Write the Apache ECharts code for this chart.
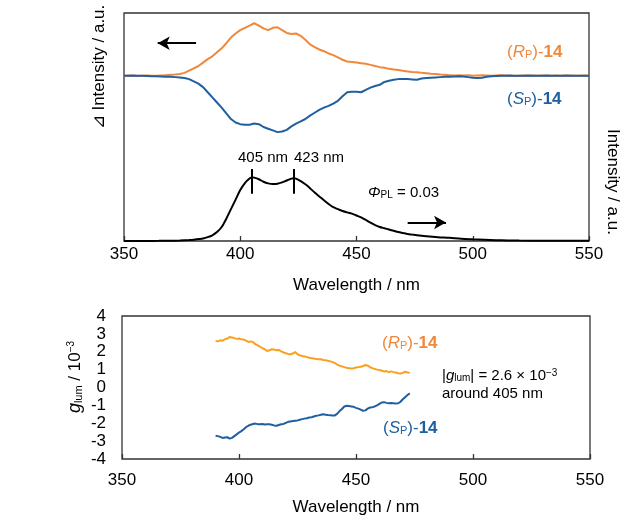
<!DOCTYPE html>
<html>
<head>
<meta charset="utf-8">
<script src="https://cdn.jsdelivr.net/npm/echarts@6/dist/echarts.min.js"></script>
<style>
  html, body { margin: 0; padding: 0; background: #fff; }
  #chart { width: 621px; height: 517px; }
</style>
</head>
<body>
<div id="chart"></div>
<script>
// CPL difference spectra (a.u.), sampled every 2 nm
const cplWl = [350,352,354,356,358,360,362,364,366,368,370,372,374,376,378,380,382,384,386,388,
  390,392,394,396,398,400,402,404,406,408,410,412,414,416,418,420,422,424,426,428,
  430,432,434,436,438,440,442,444,446,448,450,452,454,456,458,460,462,464,466,468,
  470,472,474,476,478,480,482,484,486,488,490,492,494,496,498,500,502,504,506,508,
  510,512,514,516,518,520,522,524,526,528,530,532,534,536,538,540,542,544,546,548,550];
const cplR = [0,0.005,0,-0.005,0,0.005,0,0,0.005,0.01,
  0.015,0.02,0.03,0.05,0.09,0.13,0.17,0.23,0.29,0.34,
  0.41,0.48,0.57,0.67,0.74,0.80,0.84,0.88,0.92,0.88,
  0.83,0.80,0.84,0.85,0.80,0.75,0.73,0.74,0.70,0.63,
  0.55,0.50,0.46,0.43,0.39,0.36,0.32,0.28,0.25,0.24,
  0.23,0.22,0.21,0.19,0.17,0.15,0.14,0.12,0.11,0.10,
  0.085,0.075,0.065,0.06,0.05,0.045,0.035,0.03,0.02,0.015,
  0.01,0.005,0.01,0.005,0.01,0,0.005,0.01,0.005,0,
  0.005,0.01,0.005,0,-0.005,0,0.005,0,0.005,0,
  0.005,0,0,0.005,0,0,0.005,0,0,0.005,0];
const cplS = [0,0,0.005,0,0,-0.005,-0.01,-0.01,-0.015,-0.02,
  -0.02,-0.025,-0.03,-0.04,-0.06,-0.10,-0.14,-0.20,-0.29,-0.38,
  -0.47,-0.56,-0.66,-0.76,-0.82,-0.85,-0.86,-0.86,-0.84,-0.85,
  -0.90,-0.93,-0.96,-0.99,-0.98,-0.95,-0.89,-0.84,-0.80,-0.76,
  -0.70,-0.65,-0.60,-0.56,-0.53,-0.49,-0.44,-0.36,-0.29,-0.28,
  -0.28,-0.29,-0.25,-0.21,-0.18,-0.16,-0.11,-0.09,-0.07,-0.06,
  -0.06,-0.06,-0.065,-0.07,-0.05,-0.04,-0.035,-0.03,-0.025,-0.02,
  -0.02,-0.015,-0.01,-0.015,-0.025,-0.035,-0.04,-0.035,-0.02,-0.01,
  -0.005,0,0,0.005,0,0,0,0.005,0,0,
  0,0.005,0,0,0,0.005,0,0,0,0,0];

// PL spectrum (normalised to the 405 nm maximum)
const plWl = [350,355,360,365,370,374,378,380,382,384,386,388,390,392,394,396,398,400,402,404,
  405,406,408,410,412,414,416,418,420,422,423,424,426,428,430,432,434,436,438,440,
  442,444,446,448,450,452,454,456,458,460,462,464,466,468,470,472,474,476,480,485,
  490,495,500,505,510,515,520,530,540,550];
const plI = [0,0,0.001,0.002,0.004,0.008,0.015,0.02,0.03,0.04,0.06,0.09,0.14,0.22,0.35,0.50,0.65,0.80,0.91,0.98,
  1.0,0.995,0.97,0.93,0.905,0.895,0.90,0.92,0.95,0.98,0.985,0.98,0.94,0.89,0.83,0.76,0.70,0.64,0.58,0.53,
  0.50,0.47,0.45,0.43,0.40,0.37,0.33,0.29,0.25,0.22,0.20,0.18,0.16,0.14,0.125,0.11,0.10,0.09,0.075,0.06,
  0.05,0.035,0.027,0.02,0.013,0.009,0.006,0.004,0.003,0.002];
const plPeaks = [405, 423];

// Dissymmetry factor g_lum (x 10^-3)
const gWl = [390,391,392,393,394,395,396,397,398,399,400,401,402,403,404,405,406,407,408,409,
  410,411,412,413,414,415,416,417,418,419,420,421,422,423,424,425,426,427,428,429,
  430,431,432,433,434,435,436,437,438,439,440,441,442,443,444,445,446,447,448,449,
  450,451,452,453,454,455,456,457,458,459,460,461,462,463,464,465,466,467,468,469,
  470,471,472,473];
const gR = [2.60,2.58,2.64,2.62,2.70,2.74,2.82,2.80,2.76,2.72,2.74,2.70,2.68,2.62,2.55,2.58,2.54,2.42,2.36,2.28,
  2.20,2.14,2.04,2.08,2.14,2.12,2.08,2.10,2.02,1.96,1.92,1.88,1.86,1.90,1.98,1.86,1.80,1.76,1.74,1.70,
  1.66,1.64,1.62,1.60,1.58,1.58,1.54,1.52,1.50,1.46,1.42,1.36,1.28,1.22,1.18,1.14,1.10,1.08,1.06,1.08,
  1.12,1.14,1.16,1.20,1.26,1.22,1.14,1.08,1.04,1.00,0.98,0.94,0.90,0.92,0.86,0.90,0.86,0.84,0.80,0.78,
  0.82,0.88,0.84,0.82];
const gS = [-2.70,-2.72,-2.76,-2.82,-2.80,-2.78,-2.86,-2.82,-2.72,-2.62,-2.52,-2.44,-2.34,-2.22,-2.14,-2.08,-2.04,-2.02,-2.05,-2.06,
  -2.04,-2.07,-2.05,-2.06,-2.08,-2.12,-2.14,-2.10,-2.06,-2.04,-1.98,-1.92,-1.90,-1.88,-1.86,-1.84,-1.80,-1.77,-1.74,-1.72,
  -1.68,-1.66,-1.62,-1.58,-1.56,-1.52,-1.50,-1.52,-1.54,-1.55,-1.57,-1.56,-1.46,-1.32,-1.20,-1.06,-1.02,-1.04,-1.06,-1.08,
  -1.14,-1.18,-1.24,-1.30,-1.28,-1.18,-1.12,-1.10,-1.06,-1.00,-0.92,-0.84,-0.82,-0.86,-0.88,-0.87,-0.88,-0.89,-0.88,-0.80,
  -0.66,-0.54,-0.42,-0.33];

const FONT = "'Liberation Sans', Arial, sans-serif";
const ORANGE = '#F0883C';
const ORANGE_G = '#F9A11E';
const BLUE = '#1F5FA0';
const AXIS = '#333';

const pair = (xs, ys) => xs.map((x, i) => [x, ys[i]]);

const baseText = { fontFamily: FONT, fontSize: 17, fill: '#000' };
const subText = { fontFamily: FONT, fontSize: 11, verticalAlign: 'bottom' };
const supText = { fontFamily: FONT, fontSize: 10, verticalAlign: 'top' };

function compoundLabel(letter, color, x, y) {
  return {
    type: 'text', x: x, y: y, z: 10,
    style: {
      text: '{n|(}{i|' + letter + '}{s|P}{n|)-}{b|14}',
      align: 'left', verticalAlign: 'middle',
      rich: {
        n: Object.assign({}, baseText, { fill: color }),
        i: Object.assign({}, baseText, { fill: color, fontStyle: 'italic' }),
        s: Object.assign({}, subText, { fill: color }),
        b: Object.assign({}, baseText, { fill: color, fontWeight: 'bold' })
      }
    }
  };
}

function wavelengthAxis(grid, labelMargin, nameGap) {
  return {
    gridIndex: grid, type: 'value', min: 350, max: 550, interval: 50,
    axisLine: { show: false, onZero: false },
    axisTick: { inside: true, length: 5, lineStyle: { color: AXIS, width: 1.3 } },
    axisLabel: { fontSize: 17, color: '#000', margin: labelMargin, fontFamily: FONT },
    splitLine: { show: false },
    name: 'Wavelength / nm', nameLocation: 'middle', nameGap: nameGap,
    nameTextStyle: { fontSize: 17, color: '#000', fontFamily: FONT }
  };
}

const chart = echarts.init(document.getElementById('chart'), null, { renderer: 'canvas' });

chart.setOption({
  animation: false,
  backgroundColor: '#fff',
  textStyle: { fontFamily: FONT },
  grid: [
    { left: 124, top: 13, width: 465, height: 228, show: true, borderColor: AXIS, borderWidth: 1.3 },
    { left: 122, top: 316, width: 468, height: 143, show: true, borderColor: AXIS, borderWidth: 1.3 }
  ],
  xAxis: [
    wavelengthAxis(0, 5, 36),
    wavelengthAxis(1, 13, 40)
  ],
  yAxis: [
    { gridIndex: 0, type: 'value', min: -2.9, max: 1.1, show: false },
    { gridIndex: 0, type: 'value', min: 0, max: 3.58, show: false, position: 'right' },
    {
      gridIndex: 1, type: 'value', min: -4, max: 4, interval: 1,
      axisLine: { show: false, onZero: false }, axisTick: { show: false }, splitLine: { show: false },
      axisLabel: { fontSize: 17, color: '#000', margin: 16, fontFamily: FONT }
    }
  ],
  series: [
    {
      name: '(Rp)-14 CPL', type: 'line', xAxisIndex: 0, yAxisIndex: 0,
      data: pair(cplWl, cplR), showSymbol: false, symbol: 'none',
      lineStyle: { color: ORANGE, width: 2 },
      markLine: {
        silent: true, symbol: ['none', 'arrow'], symbolSize: [10, 12],
        label: { show: false },
        lineStyle: { color: '#000', width: 2, type: 'solid' },
        itemStyle: { color: '#000' },
        data: [[{ coord: [381, 0.57] }, { coord: [364.5, 0.57] }]]
      }
    },
    {
      name: '(Sp)-14 CPL', type: 'line', xAxisIndex: 0, yAxisIndex: 0,
      data: pair(cplWl, cplS), showSymbol: false, symbol: 'none',
      lineStyle: { color: BLUE, width: 2 }
    },
    {
      name: 'PL', type: 'line', xAxisIndex: 0, yAxisIndex: 1,
      data: pair(plWl, plI), showSymbol: false, symbol: 'none', smooth: 0.3,
      lineStyle: { color: '#000', width: 2 },
      markLine: {
        silent: true, symbol: 'none', label: { show: false },
        lineStyle: { color: '#000', width: 2, type: 'solid' },
        data: plPeaks.map(w => [{ coord: [w, 0.74] }, { coord: [w, 1.13] }]).concat([
          [{ coord: [472, 0.29], symbol: 'none' }, { coord: [488.5, 0.29], symbol: 'arrow', symbolSize: [10, 12] }]
        ])
      }
    },
    {
      name: '(Rp)-14 glum', type: 'line', xAxisIndex: 1, yAxisIndex: 2,
      data: pair(gWl, gR), showSymbol: false, symbol: 'none',
      lineStyle: { color: ORANGE_G, width: 2 }
    },
    {
      name: '(Sp)-14 glum', type: 'line', xAxisIndex: 1, yAxisIndex: 2,
      data: pair(gWl, gS), showSymbol: false, symbol: 'none',
      lineStyle: { color: BLUE, width: 2 }
    }
  ],
  graphic: [
    // axis titles of the upper panel
    {
      type: 'text', x: 99, y: 67, rotation: Math.PI / 2,
      style: { text: '⊿ Intensity / a.u.', fontSize: 17, fontFamily: FONT, fill: '#000', align: 'center', verticalAlign: 'middle' }
    },
    {
      type: 'text', x: 613, y: 182, rotation: -Math.PI / 2,
      style: { text: 'Intensity / a.u.', fontSize: 17, fontFamily: FONT, fill: '#000', align: 'center', verticalAlign: 'middle' }
    },
    // g_lum axis title
    {
      type: 'text', x: 75, y: 377, rotation: Math.PI / 2,
      style: {
        text: '{i|g}{s|lum}{n| / 10}{p|−3}', align: 'center', verticalAlign: 'middle',
        rich: {
          n: baseText,
          i: Object.assign({}, baseText, { fontStyle: 'italic', fontSize: 18 }),
          s: Object.assign({}, subText, { fill: '#000' }),
          p: Object.assign({}, supText, { fill: '#000' })
        }
      }
    },
    compoundLabel('R', ORANGE, 507, 52),
    compoundLabel('S', BLUE, 507, 99),
    compoundLabel('R', ORANGE, 382, 343),
    compoundLabel('S', BLUE, 383, 428),
    // PL peak labels
    {
      type: 'text', x: 238, y: 158,
      style: { text: plPeaks[0] + ' nm', fontSize: 15, fontFamily: FONT, fill: '#000', align: 'left', verticalAlign: 'middle' }
    },
    {
      type: 'text', x: 294, y: 158,
      style: { text: plPeaks[1] + ' nm', fontSize: 15, fontFamily: FONT, fill: '#000', align: 'left', verticalAlign: 'middle' }
    },
    // quantum yield
    {
      type: 'text', x: 368, y: 193,
      style: {
        text: '{i|Φ}{s|PL}{n| = 0.03}', align: 'left', verticalAlign: 'middle',
        rich: {
          n: Object.assign({}, baseText, { fontSize: 15 }),
          i: Object.assign({}, baseText, { fontSize: 15, fontStyle: 'italic' }),
          s: Object.assign({}, subText, { fontSize: 10, fill: '#000' })
        }
      }
    },
    // g_lum note
    {
      type: 'text', x: 442, y: 376,
      style: {
        text: '{n||}{i|g}{s|lum}{n|| = 2.6 × 10}{p|−3}', align: 'left', verticalAlign: 'middle',
        rich: {
          n: Object.assign({}, baseText, { fontSize: 15 }),
          i: Object.assign({}, baseText, { fontSize: 15, fontStyle: 'italic' }),
          s: Object.assign({}, subText, { fontSize: 10, fill: '#000' }),
          p: Object.assign({}, supText, { fontSize: 10, fill: '#000' })
        }
      }
    },
    {
      type: 'text', x: 442, y: 394,
      style: { text: 'around 405 nm', fontSize: 15, fontFamily: FONT, fill: '#000', align: 'left', verticalAlign: 'middle' }
    }
  ]
});
</script>
</body>
</html>
